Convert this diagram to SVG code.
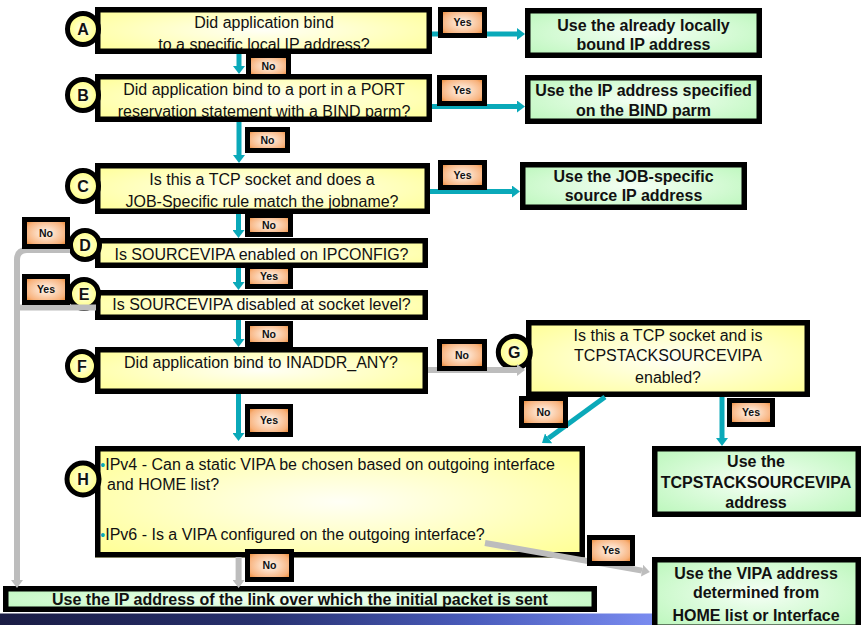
<svg xmlns="http://www.w3.org/2000/svg" width="861" height="625" viewBox="0 0 861 625">
<defs>
<radialGradient id="gy" cx="50%" cy="50%" r="65%"><stop offset="0" stop-color="#FFFFF6"/><stop offset="1" stop-color="#FFFF98"/></radialGradient>
<radialGradient id="gg" cx="50%" cy="50%" r="65%"><stop offset="0" stop-color="#F6FFF6"/><stop offset="1" stop-color="#BCF7BC"/></radialGradient>
<radialGradient id="go" cx="50%" cy="50%" r="60%"><stop offset="0" stop-color="#FFF8F2"/><stop offset="0.8" stop-color="#F8B27C"/><stop offset="1" stop-color="#EC8E3E"/></radialGradient>
<radialGradient id="gc" cx="50%" cy="50%" r="55%"><stop offset="0" stop-color="#FFFFF0"/><stop offset="1" stop-color="#FFFF70"/></radialGradient>
<linearGradient id="gb" x1="0" y1="0" x2="1" y2="0"><stop offset="0" stop-color="#1A1C44"/><stop offset="0.3" stop-color="#27306E"/><stop offset="0.55" stop-color="#4A5CBC"/><stop offset="0.75" stop-color="#788AEE"/><stop offset="1" stop-color="#8A9CF8"/></linearGradient>
<marker id="at" markerUnits="userSpaceOnUse" markerWidth="8" markerHeight="12" refX="0" refY="6" orient="auto"><path d="M0,0 L8,6 L0,12 z" fill="#0AA9B9"/></marker>
<marker id="ag" markerUnits="userSpaceOnUse" markerWidth="8" markerHeight="12" refX="0" refY="6" orient="auto"><path d="M0,0 L8,6 L0,12 z" fill="#BDBDBD"/></marker>
<style>
text{font-family:"Liberation Sans",Arial,sans-serif;fill:#111}
.yf{fill:url(#gy)}
.gf{fill:url(#gg)}
.bd{fill:none;stroke:#000;stroke-width:5.5}
.q{font-size:16px;text-anchor:middle}
.qa{font-size:16px}
.a{font-size:16px;font-weight:bold;text-anchor:middle}
.cir{fill:url(#gc);stroke:#000;stroke-width:5}
.cl{font-size:16px;font-weight:bold;text-anchor:middle}
.t{fill:none;stroke:#0AA9B9;stroke-width:5;marker-end:url(#at)}
.g{fill:none;stroke:#BDBDBD;stroke-width:6;marker-end:url(#ag)}
.gn{fill:none;stroke:#BDBDBD;stroke-width:6}
.lb{fill:url(#go);stroke:#000;stroke-width:5}
.lt{font-size:10.5px;font-weight:bold;text-anchor:middle}
.bu{fill:#0AA9B9;font-size:14px}
</style>
</defs>
<rect x="0" y="613.5" width="861" height="11.5" fill="url(#gb)"/>

<g id="A">
<rect class="yf" x="95" y="7" width="337" height="47"/>
<text class="q" x="264" y="28">Did application bind</text>
<text class="q" x="264" y="50">to a specific local IP address?</text>
<rect class="bd" x="97.75" y="9.75" width="331.5" height="41.5"/>
<circle class="cir" cx="83" cy="29" r="15.5"/>
<text class="cl" x="83" y="35">A</text>
</g>
<g id="B">
<rect class="yf" x="95" y="74" width="337" height="48"/>
<text class="q" x="264" y="95">Did application bind to a port in a PORT</text>
<text class="q" x="264" y="117">reservation statement with a BIND parm?</text>
<rect class="bd" x="97.75" y="76.75" width="331.5" height="42.5"/>
<circle class="cir" cx="83" cy="95" r="15.5"/>
<text class="cl" x="83" y="101">B</text>
</g>
<g id="C">
<rect class="yf" x="95" y="163" width="335" height="51"/>
<text class="q" x="262" y="185">Is this a TCP socket and does a</text>
<text class="q" x="262" y="206.7">JOB-Specific rule match the jobname?</text>
<rect class="bd" x="97.75" y="165.75" width="329.5" height="45.5"/>
<circle class="cir" cx="83" cy="186" r="15.5"/>
<text class="cl" x="83" y="192">C</text>
</g>
<g id="D">
<rect class="yf" x="95" y="238" width="333" height="30"/>
<text class="q" x="261.5" y="260">Is SOURCEVIPA enabled on IPCONFIG?</text>
<rect class="bd" x="97.75" y="240.75" width="327.5" height="24.5"/>
<circle class="cir" cx="85" cy="245" r="14.5"/>
<text class="cl" x="85" y="251">D</text>
</g>
<g id="E">
<rect class="yf" x="95" y="290" width="333" height="30"/>
<text class="q" x="261.5" y="310">Is SOURCEVIPA disabled at socket level?</text>
<rect class="bd" x="97.75" y="292.75" width="327.5" height="24.5"/>
<circle class="cir" cx="84" cy="294" r="14.5"/>
<text class="cl" x="84" y="300">E</text>
</g>
<g id="F">
<rect class="yf" x="95" y="347" width="333" height="47"/>
<text class="q" x="261" y="368.3">Did application bind to INADDR_ANY?</text>
<rect class="bd" x="97.75" y="349.75" width="327.5" height="41.5"/>
<circle class="cir" cx="82" cy="366" r="14.5"/>
<text class="cl" x="82" y="372">F</text>
</g>
<g id="G">
<rect class="yf" x="526" y="320" width="284" height="77"/>
<text class="q" x="668" y="341">Is this a TCP socket and is</text>
<text class="q" x="668" y="361">TCPSTACKSOURCEVIPA</text>
<text class="q" x="668" y="382.7">enabled?</text>
<rect class="bd" x="528.75" y="322.75" width="278.5" height="71.5"/>
<circle class="cir" cx="514.3" cy="352.3" r="16"/>
<text class="cl" x="514.3" y="358.3">G</text>
</g>
<g id="H">
<rect class="yf" x="95" y="446" width="490" height="111.5"/>
<rect class="bd" x="97.75" y="448.75" width="484.5" height="106"/>
<text class="qa" x="100.3" y="470"><tspan class="bu">•</tspan>IPv4 - Can a static VIPA be chosen based on outgoing interface</text>
<text class="qa" x="107" y="489.6">and HOME list?</text>
<text class="qa" x="100.3" y="539.6"><tspan class="bu">•</tspan>IPv6 - Is a VIPA configured on the outgoing interface?</text>
<circle class="cir" cx="83" cy="479" r="16"/>
<text class="cl" x="83" y="485">H</text>
</g>
<g id="R1">
<rect class="gf" x="525" y="8" width="237" height="50"/>
<text class="a" x="643.5" y="30.7">Use the already locally</text>
<text class="a" x="643.5" y="50">bound IP address</text>
<rect class="bd" x="527.75" y="10.75" width="231.5" height="44.5"/>
</g>
<g id="R2">
<rect class="gf" x="525" y="75" width="237" height="49"/>
<text class="a" x="643.5" y="95.7">Use the IP address specified</text>
<text class="a" x="643.5" y="115.7">on the BIND parm</text>
<rect class="bd" x="527.75" y="77.75" width="231.5" height="43.5"/>
</g>
<g id="R3">
<rect class="gf" x="520" y="162" width="227" height="48"/>
<text class="a" x="633.5" y="181.7">Use the JOB-specific</text>
<text class="a" x="633.5" y="200.7">source IP address</text>
<rect class="bd" x="522.75" y="164.75" width="221.5" height="42.5"/>
</g>
<g id="R4">
<rect class="gf" x="652" y="446" width="209" height="71"/>
<text class="a" x="756" y="467.3">Use the</text>
<text class="a" x="756" y="487.7">TCPSTACKSOURCEVIPA</text>
<text class="a" x="756" y="507.7">address</text>
<rect class="bd" x="654.75" y="448.75" width="203.5" height="65.5"/>
</g>
<g id="R5">
<rect class="gf" x="652" y="557" width="209" height="73"/>
<text class="a" x="756" y="579">Use the VIPA address</text>
<text class="a" x="756" y="598">determined from</text>
<text class="a" x="756" y="620.7">HOME list or Interface</text>
<rect class="bd" x="654.75" y="559.75" width="203.5" height="67.5"/>
</g>
<g id="R6">
<rect class="gf" x="3" y="586" width="594" height="26"/>
<text class="a" x="300" y="604.5">Use the IP address of the link over which the initial packet is sent</text>
<rect class="bd" x="5.75" y="588.75" width="588.5" height="20.5"/>
</g>

<g id="connectors">
<path class="t" d="M239,54 V66"/>
<path class="t" d="M432,34 H517"/>
<path class="t" d="M432,106.5 H517"/>
<path class="t" d="M239,122 V155"/>
<path class="t" d="M430,191.5 H512"/>
<path class="t" d="M238.5,214 V230"/>
<path class="t" d="M238.5,268 V282"/>
<path class="t" d="M238.5,320 V339"/>
<path class="t" d="M238.5,394 V433"/>
<path class="g" d="M428,370 H517"/>
<path class="t" d="M605,397 L548.5,438.3"/>
<path class="t" d="M722,397 V438"/>
<path class="g" d="M238.6,557 V580"/>
<path class="g" d="M485,543 L642,570.6"/>
<path class="g" d="M70,250 H27 Q17,250 17,260 V580"/>
<path class="gn" d="M96,307.5 H17"/>
</g>

<g id="labels">
<rect class="lb" x="440.5" y="9.5" width="44" height="26"/><text class="lt" x="462.5" y="26.2">Yes</text>
<rect class="lb" x="248.5" y="55.5" width="40" height="21"/><text class="lt" x="268.5" y="69.7">No</text>
<rect class="lb" x="439.5" y="77.5" width="45" height="26"/><text class="lt" x="462" y="94.2">Yes</text>
<rect class="lb" x="247.5" y="129.5" width="40" height="21"/><text class="lt" x="267.5" y="143.7">No</text>
<rect class="lb" x="440.5" y="162.5" width="44" height="25"/><text class="lt" x="462.5" y="178.7">Yes</text>
<rect class="lb" x="247.5" y="215.5" width="43" height="19"/><text class="lt" x="269" y="228.7">No</text>
<rect class="lb" x="24.5" y="219.5" width="43" height="27"/><text class="lt" x="46" y="236.7">No</text>
<rect class="lb" x="247.5" y="266.5" width="43" height="20"/><text class="lt" x="269" y="280.2">Yes</text>
<rect class="lb" x="24.5" y="276.5" width="43" height="26"/><text class="lt" x="46" y="293.2">Yes</text>
<rect class="lb" x="247.5" y="323.5" width="43" height="21"/><text class="lt" x="269" y="337.7">No</text>
<rect class="lb" x="247.5" y="406.5" width="43" height="28"/><text class="lt" x="269" y="424.2">Yes</text>
<rect class="lb" x="439.5" y="341.5" width="45" height="27"/><text class="lt" x="462" y="358.7">No</text>
<rect class="lb" x="521.5" y="398.5" width="44" height="27"/><text class="lt" x="543.5" y="415.7">No</text>
<rect class="lb" x="729.5" y="400.5" width="43" height="24"/><text class="lt" x="751" y="416.2">Yes</text>
<rect class="lb" x="247.5" y="551.5" width="44" height="28"/><text class="lt" x="269.5" y="569.2">No</text>
<rect class="lb" x="589.5" y="537.5" width="43" height="26"/><text class="lt" x="611" y="554.2">Yes</text>
</g>
</svg>
